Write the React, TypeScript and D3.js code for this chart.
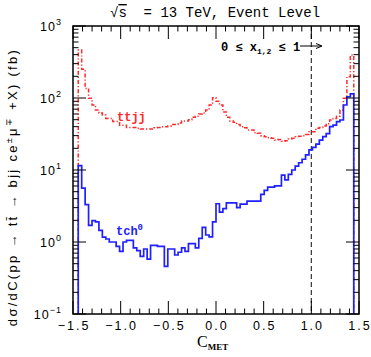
import React from "react";
import * as d3 from "d3";

// histogram binning (80 bins between the kinematic limits)
const binLo = -1.445;
const binHi = 1.445;

// tch0 (blue, solid) per-bin values in fb
const tchValues = [
  11.5, 5.6, 3.3, 1.7, 1.98, 1.9, 1.45, 1.17, 1.1, 1.0,
  1.0, 0.87, 0.74, 1.0, 1.05, 1.05, 0.83, 0.76, 0.63, 0.8,
  0.58, 0.9, 0.9, 0.87, 0.87, 0.46, 0.8, 0.8, 0.66, 0.72,
  0.83, 0.74, 0.95, 0.95, 0.83, 1.12, 1.6, 1.25, 1.18, 1.9,
  3.4, 2.6, 2.9, 3.5, 3.5, 3.5, 3.0, 3.35, 3.35, 3.7,
  3.7, 3.7, 3.7, 4.6, 5.2, 5.8, 5.8, 6.0, 6.0, 8.5,
  7.3, 8.7, 10, 11.3, 12.6, 14.1, 16.2, 19, 20.6, 22.9,
  26, 29, 32, 40, 42, 47, 49.5, 80, 104, 114,
];

// ttjj (red, dash-dot) per-bin values in fb
const ttjjValues = [
  464, 250, 136, 99, 80, 68, 62, 58, 52, 52,
  47, 47, 42, 42, 39, 39, 39, 38, 37, 37,
  37, 37, 38.5, 39, 40, 40, 41, 43, 43, 45,
  48, 48, 50, 54, 56, 60, 62, 68, 80, 101,
  90, 80, 64, 54, 48, 46, 43, 40, 38.5, 36,
  36, 33, 32.5, 30, 29, 28, 27.5, 26, 26.5, 25,
  25.5, 27, 27.5, 29, 29.5, 30, 31, 34, 34, 38,
  39, 41, 44, 49.5, 52, 56, 68, 99, 197, 395,
];

const xTicks = [-1.5, -1.0, -0.5, 0.0, 0.5, 1.0, 1.5];
const yDecades = [-1, 0, 1, 2, 3];

const W = 371;
const H = 357;
const left = 73;
const right = 359;
const top = 26;
const bottom = 314;

const sans = "'Liberation Sans', Arial, sans-serif";
const mono = "'Liberation Mono', 'DejaVu Sans Mono', monospace";
const serif = "'Liberation Serif', 'DejaVu Serif', serif";

function stepPath(values: number[], x: d3.ScaleLinear<number, number>, y: d3.ScaleLogarithmic<number, number>) {
  const n = values.length;
  const w = (binHi - binLo) / n;
  const pts: [number, number][] = [[x(binLo), y(0.1)]];
  values.forEach((v, i) => {
    pts.push([x(binLo + i * w), y(v)]);
    pts.push([x(binLo + (i + 1) * w), y(v)]);
  });
  pts.push([x(binHi), y(0.1)]);
  return d3.line()(pts) || "";
}

export default function App() {
  const x = d3.scaleLinear().domain([-1.5, 1.5]).range([left, right]);
  const y = d3.scaleLog().domain([0.1, 1000]).range([bottom, top]);

  const xMinor = d3.range(-15, 16).map((d) => d / 10);
  const yMinor: number[] = [];
  yDecades.slice(0, -1).forEach((e) => {
    for (let k = 2; k <= 9; k++) yMinor.push(k * Math.pow(10, e));
  });

  const major = 13;
  const minor = 5.5;

  return (
    <svg width={W} height={H} style={{ position: "fixed", left: 0, top: 0, background: "#fff" }}>
      <text x={110} y={17} fontFamily={mono} fontSize={14} style={{ whiteSpace: "pre" }}>
        √<tspan style={{ textDecoration: "overline" }}>s</tspan>
        {"  = 13 TeV, Event Level"}
      </text>

      <defs>
        <clipPath id="plot">
          <rect x={left} y={top} width={right - left} height={bottom - top} />
        </clipPath>
      </defs>

      <g clipPath="url(#plot)">
        <line x1={x(1)} x2={x(1)} y1={top} y2={bottom} stroke="#333" strokeWidth={1.2} strokeDasharray="5,3" />
        <path d={stepPath(ttjjValues, x, y)} fill="none" stroke="#ff2a2a" strokeWidth={1.5} strokeDasharray="4,2,1.2,2" />
        <path d={stepPath(tchValues, x, y)} fill="none" stroke="#2020ff" strokeWidth={1.7} />
      </g>

      {/* ticks */}
      <g stroke="#000" strokeWidth={1}>
        {xMinor.map((t) => {
          const isMajor = Math.abs(t * 2 - Math.round(t * 2)) < 1e-6;
          const l = isMajor ? major : minor;
          return (
            <g key={"x" + t}>
              <line x1={x(t)} x2={x(t)} y1={bottom} y2={bottom - l} />
              <line x1={x(t)} x2={x(t)} y1={top} y2={top + l} />
            </g>
          );
        })}
        {yDecades.map((e) => (
          <g key={"yd" + e}>
            <line x1={left} x2={left + major} y1={y(Math.pow(10, e))} y2={y(Math.pow(10, e))} />
            <line x1={right} x2={right - major} y1={y(Math.pow(10, e))} y2={y(Math.pow(10, e))} />
          </g>
        ))}
        {yMinor.map((t) => (
          <g key={"ym" + t}>
            <line x1={left} x2={left + minor} y1={y(t)} y2={y(t)} />
            <line x1={right} x2={right - minor} y1={y(t)} y2={y(t)} />
          </g>
        ))}
      </g>

      <rect x={left} y={top} width={right - left} height={bottom - top} fill="none" stroke="#000" strokeWidth={1.5} />

      {/* x tick labels */}
      {xTicks.map((t) => (
        <text key={"xl" + t} x={x(t) + 1} y={bottom + 16} textAnchor="middle" fontFamily={sans} fontSize={12.5} letterSpacing={2}>
          {(t < 0 ? "\u2212" : "") + Math.abs(t).toFixed(1)}
        </text>
      ))}

      {/* y tick labels */}
      {yDecades.map((e) => (
        <text key={"yl" + e} x={left - 11} y={y(Math.pow(10, e)) + 5} textAnchor="end" fontFamily={sans} fontSize={12.5} letterSpacing={1}>
          10
          <tspan dy={-6} fontSize={9}>{e < 0 ? "\u2212" + Math.abs(e) : String(e)}</tspan>
        </text>
      ))}

      {/* axis titles */}
      <text x={197} y={347} fontFamily={serif} fontSize={16}>
        C<tspan dy={3} fontSize={9} fontWeight="bold">MET</tspan>
      </text>
      <text transform={`translate(17,187) rotate(-90)`} textAnchor="middle" fontFamily={sans} fontSize={13} letterSpacing={2.3}>
        dσ/dC(pp → tt̄ → bjj ce<tspan dy={-5} fontSize={9}>±</tspan>
        <tspan dy={5}>μ</tspan>
        <tspan dy={-5} fontSize={9}>∓</tspan>
        <tspan dy={5}> +X) (fb)</tspan>
      </text>

      {/* annotations */}
      <text x={221} y={51} fontFamily={mono} fontWeight="bold" fontSize={12} style={{ whiteSpace: "pre" }}>
        0 ≤ x<tspan dy={3} fontSize={8}>1,2</tspan>
        <tspan dy={-3}> ≤ 1</tspan>
      </text>
      <line x1={300} x2={321} y1={46} y2={46} stroke="#000" strokeWidth={1} />
      <path d="M316,43.5 L322,46 L316,48.5" fill="none" stroke="#000" strokeWidth={1} />

      <text x={117} y={121} fontFamily={mono} fontWeight="bold" fontSize={12} fill="#ff2a2a">ttjj</text>
      <text x={116} y={235} fontFamily={mono} fontWeight="bold" fontSize={12} fill="#2020ff">
        tch<tspan dy={-5} fontSize={9}>0</tspan>
      </text>
    </svg>
  );
}
